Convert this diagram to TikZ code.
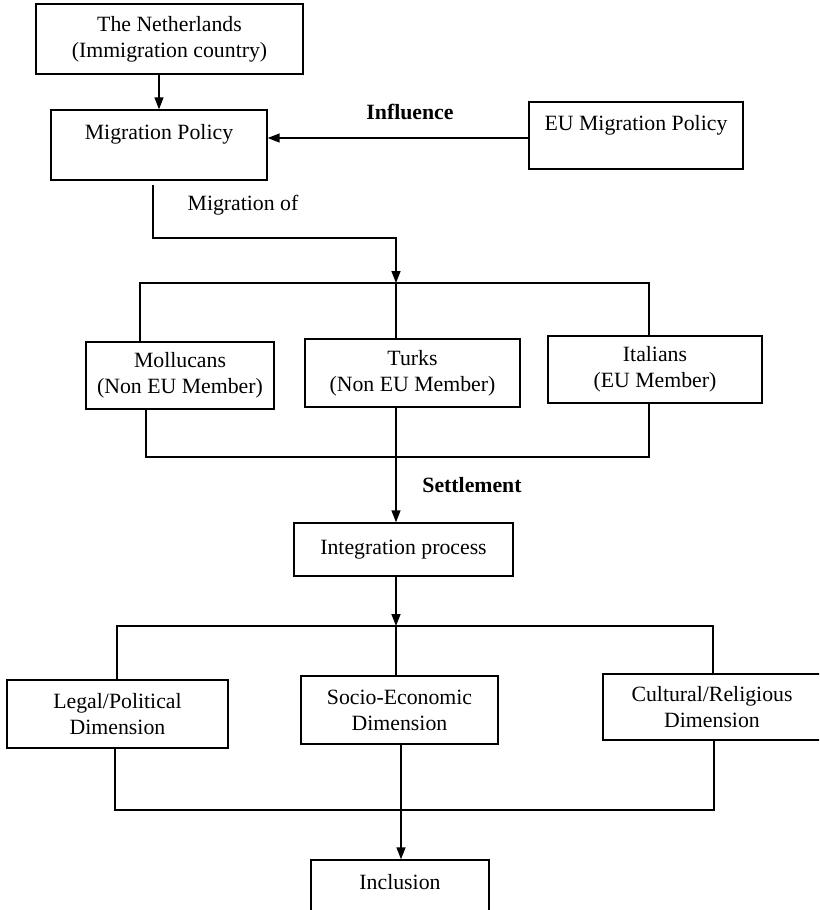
\documentclass[tikz,border=0pt]{standalone}
\usepackage{fontspec}
\setmainfont{Liberation Serif}
\usepackage{tikz}
\usetikzlibrary{arrows.meta,positioning}

\begin{document}
\begin{tikzpicture}[x=0.02cm, y=-0.02cm,
    font=\fontsize{12.4}{14.8}\selectfont,
    box/.style={draw, line width=0.8pt, align=center, inner sep=0pt},
    arr/.style={-{Triangle[length=2.4mm,width=1.8mm]}},
    lbl/.style={font=\fontsize{12.4}{14.8}\selectfont\bfseries},
    line width=0.8pt]
        \clip (0,0) rectangle (819,910);
        \node[box, minimum width=5.34cm, minimum height=1.4cm] (neth) at (169.5,39) {The Netherlands\\(Immigration country)};
        \node[box, minimum width=4.32cm, minimum height=1.4cm] (mpol) at (159,145) {Migration Policy\\\mbox{}};
        \node[box, minimum width=4.28cm, minimum height=1.34cm] (eupol) at (636,135.5) {EU Migration Policy\\\mbox{}};
        \node[box, minimum width=3.76cm, minimum height=1.34cm] (moll) at (180,375.5) {Mollucans\\(Non EU Member)};
        \node[box, minimum width=4.3cm, minimum height=1.36cm] (turks) at (412.5,373) {Turks\\(Non EU Member)};
        \node[box, minimum width=4.28cm, minimum height=1.34cm] (ital) at (655,369.5) {Italians\\(EU Member)};
        \node[box, minimum width=4.38cm, minimum height=1.06cm] (integ) at (403.5,549.5) {Integration process};
        \node[box, minimum width=4.42cm, minimum height=1.36cm] (legal) at (117.5,714) {Legal/Political\\Dimension};
        \node[box, minimum width=3.94cm, minimum height=1.36cm] (socio) at (399.5,710) {Socio-Economic\\Dimension};
        \node[box, minimum width=4.36cm, minimum height=1.32cm] (cult) at (712,707) {Cultural/Religious\\Dimension};
        \node[box, minimum width=3.56cm, minimum height=1.4cm] (incl) at (400,895) {Inclusion\\\mbox{}};

        \node[lbl] (infl) at (410,112) {Influence};
        \node (migof) at (243,205) {Migration of};
        \node[lbl] (settle) at (472,485) {Settlement};

        \draw[arr] (neth.south -| mpol.north) -- (mpol.north);
        \coordinate (eu0) at ([yshift=-0.05cm]eupol.west);
        \draw[arr] (eu0) -- (eu0 -| mpol.east);

        \coordinate (out1) at (153,238);
        \coordinate (fork1) at (396,283);
        \coordinate (mp0) at ([yshift=-0.08cm]mpol.south);
        \draw[arr] (mp0 -| out1) -- (out1) -| (fork1);
        \coordinate (b1l) at (140,283);
        \coordinate (b1r) at (649,283);
        \draw (moll.north -| b1l) -- (b1l) -- (b1r) -- (ital.north -| b1r);
        \draw (fork1) -- (turks.north -| fork1);

        \coordinate (b2l) at (146,457);
        \coordinate (b2r) at (649,457);
        \coordinate (join1) at (396,457);
        \draw (moll.south -| b2l) -- (b2l) -- (b2r) -- (ital.south -| b2r);
        \draw[arr] (turks.south -| join1) -- (integ.north -| join1);

        \coordinate (fork2) at (396,626);
        \draw[arr] (integ.south -| fork2) -- (fork2);
        \coordinate (b3l) at (117,626);
        \coordinate (b3r) at (713,626);
        \draw (legal.north -| b3l) -- (b3l) -- (b3r) -- (cult.north -| b3r);
        \draw (fork2) -- (socio.north -| fork2);

        \coordinate (b4l) at (115,810);
        \coordinate (b4r) at (714,810);
        \coordinate (join2) at (401,810);
        \draw (legal.south -| b4l) -- (b4l) -- (b4r) -- (cult.south -| b4r);
        \draw[arr] (socio.south -| join2) -- (incl.north -| join2);
      \end{tikzpicture}
\end{document}
